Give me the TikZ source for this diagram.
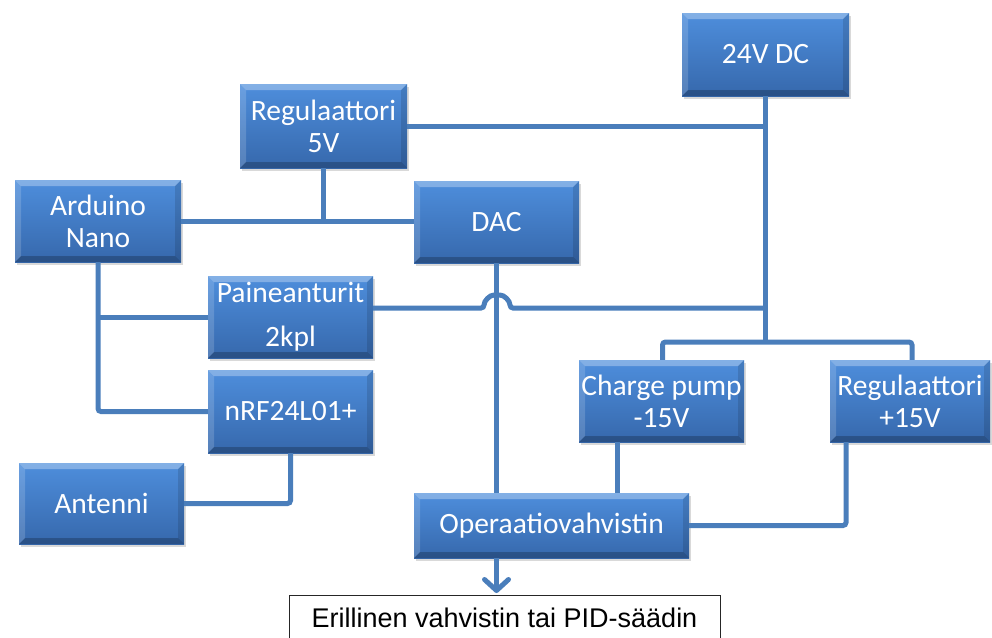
\documentclass[tikz,border=0pt]{standalone}
\usepackage{fontspec}
\setmainfont{Carlito}
\newfontfamily\arialfont{Liberation Sans}
\usetikzlibrary{shadows,arrows.meta}

\definecolor{boxtop}{RGB}{78,142,220}
\definecolor{boxbot}{RGB}{54,104,172}
\definecolor{wirec}{RGB}{74,126,187}

\tikzset{
  blk/.style={rectangle, inner sep=0pt, top color=boxtop, bottom color=boxbot,
    text=white, font=\fontsize{29.5}{32}\selectfont, align=center,
    drop shadow={opacity=0.3, shadow xshift=2pt, shadow yshift=-3pt},
    path picture={
      % bevelled rim: light top/left, dark bottom/right
      \fill[white,opacity=.30] (path picture bounding box.north west)
        -- (path picture bounding box.north east)
        -- ([xshift=-6pt,yshift=-6pt]path picture bounding box.north east)
        -- ([xshift=6pt,yshift=-6pt]path picture bounding box.north west) -- cycle;
      \fill[white,opacity=.16] (path picture bounding box.north west)
        -- ([xshift=6pt,yshift=-6pt]path picture bounding box.north west)
        -- ([xshift=6pt,yshift=6pt]path picture bounding box.south west)
        -- (path picture bounding box.south west) -- cycle;
      \fill[black,opacity=.22] (path picture bounding box.south west)
        -- (path picture bounding box.south east)
        -- ([xshift=-6pt,yshift=6pt]path picture bounding box.south east)
        -- ([xshift=6pt,yshift=6pt]path picture bounding box.south west) -- cycle;
      \fill[black,opacity=.12] (path picture bounding box.north east)
        -- ([xshift=-6pt,yshift=-6pt]path picture bounding box.north east)
        -- ([xshift=-6pt,yshift=6pt]path picture bounding box.south east)
        -- (path picture bounding box.south east) -- cycle;
    }},
  wire/.style={draw=wirec, line width=5pt, rounded corners=3pt},
  outbox/.style={draw=black!85, line width=1pt, fill=white,
    font=\arialfont\fontsize{27}{30}\selectfont, minimum width=431pt,
    text height=19.5pt, text depth=40pt, inner ysep=12pt}
}

\begin{document}
\begin{tikzpicture}[x=1pt,y=-1pt]
\useasboundingbox (0,0) rectangle (992,637);
\clip (0,0) rectangle (992,637);

% blocks
\node[blk, minimum width=167pt, minimum height=83pt] (dc)    at (765.5,54.5) {24V DC};
\node[blk, minimum width=167pt, minimum height=84pt] (reg5)  at (323.5,126)  {Regulaattori\\5V};
\node[blk, minimum width=166pt, minimum height=82pt] (ard)   at (98,221)     {Arduino\\Nano};
\node[blk, minimum width=165pt, minimum height=82pt] (dac)   at (496.5,222)  {DAC};
\node[blk, minimum width=165pt, minimum height=82pt] (pai)   at (290.5,317)  {Paineanturit\\[12pt]2kpl};
\node[blk, minimum width=165pt, minimum height=83pt] (nrf)   at (290.5,411.5){nRF24L01+};
\node[blk, minimum width=165pt, minimum height=81pt] (ant)   at (101.5,503.5){Antenni};
\node[blk, minimum width=165pt, minimum height=82pt] (cp)    at (661.5,401)  {Charge pump\\-15V};
\node[blk, minimum width=160pt, minimum height=82pt] (reg15) at (910,401)    {Regulaattori\\+15V};
\node[blk, minimum width=275pt, minimum height=65pt] (op)    at (551.5,525.5){Operaatiovahvistin};
\node[outbox, anchor=north] (out) at (504.5,595) {Erillinen vahvistin tai PID-säädin};

% 24 V supply rail
\coordinate (rail) at (dc.south |- 0,342);
\draw[wire] (dc.south) -- (rail);
\draw[wire] (reg5.east) -- (reg5.east -| dc.south);
\draw[wire] ([xshift=1pt]cp.north) |- (rail) -| ([xshift=2pt]reg15.north);

% sensor supply, hopping over the DAC output
\coordinate (pa) at ([yshift=9pt]pai.east);
\draw[wire] (pa) -- (484,308)
  .. controls (484,300.8) and (489.8,295) .. (497,295)
  .. controls (504.2,295) and (510,300.8) .. (510,308)
  -- (pa -| dc.south);

% 5 V and logic
\draw[wire] (reg5.south) -- (reg5.south |- ard.east);
\draw[wire] (ard.east) -- (ard.east -| dac.west);
\draw[wire] (ard.south) |- (nrf.west);
\draw[wire] (ard.south |- pai.west) -- (pai.west);
\draw[wire] (nrf.south) |- (ant.east);

% analog path
\draw[wire] (dac.south) -- (dac.south |- op.north);
\draw[wire] ([xshift=-44pt]cp.south) -- ([xshift=-44pt]cp.south |- op.north);
\draw[wire] ([xshift=-64pt]reg15.south) |- (op.east);
\draw[wire, -{Straight Barb[length=11pt,width=24pt,round]}] (dac.south |- op.south) -- ([yshift=2pt]dac.south |- out.north);
\end{tikzpicture}
\end{document}
